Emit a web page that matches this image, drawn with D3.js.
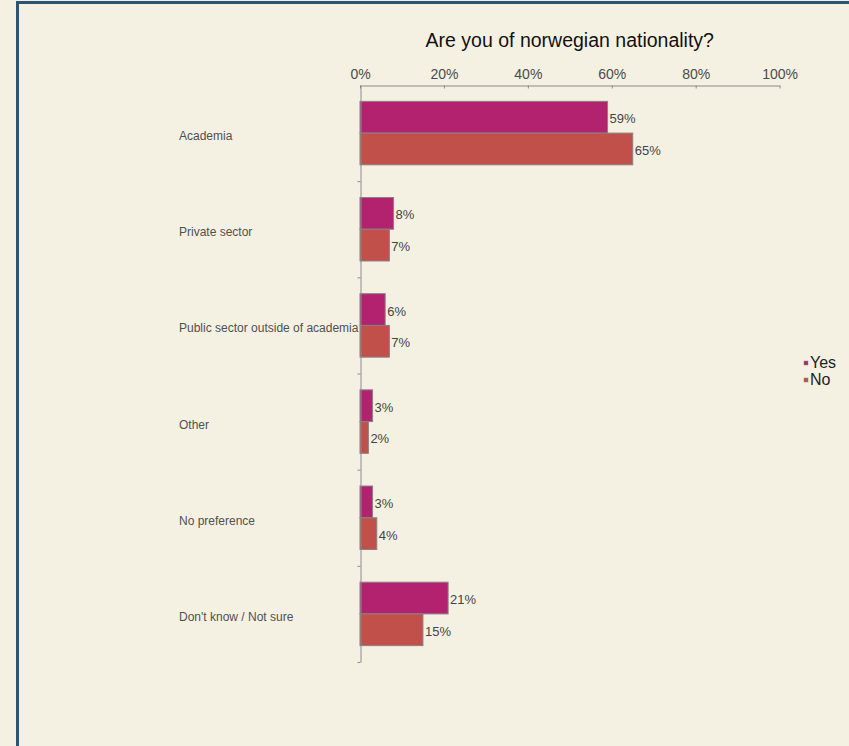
<!DOCTYPE html>
<html>
<head>
<meta charset="utf-8">
<script src="https://cdn.jsdelivr.net/npm/d3@7"></script>
<style>
  html, body { margin: 0; padding: 0; background: #f5f1e2; }
  svg { display: block; }
  text { font-family: "Liberation Sans", Arial, sans-serif; }
</style>
</head>
<body>
<script>
const categories = ["Academia", "Private sector", "Public sector outside of academia", "Other", "No preference", "Don't know / Not sure"];
const seriesNames = ["Yes", "No"];
const yesValues = [59, 8, 6, 3, 3, 21];
const noValues = [65, 7, 7, 2, 4, 15];
const xTicks = [0, 20, 40, 60, 80, 100];
const title = "Are you of norwegian nationality?";

const W = 849, H = 746;
const colors = { Yes: "#b3226f", No: "#c1504b" };

const svg = d3.select("body").append("svg").attr("width", W).attr("height", H);
svg.append("rect").attr("width", W).attr("height", H).attr("fill", "#f5f1e2");
// frame
svg.append("rect").attr("x", 17.5).attr("y", 2.5).attr("width", 1000).attr("height", 1000)
  .attr("fill", "#f5f1e2").attr("stroke", "#2c5571").attr("stroke-width", 3);

const plot = { left: 360, right: 779.6, top: 85, bottom: 662 };

const x = d3.scaleLinear().domain([0, 100]).range([plot.left, plot.right]);
const y = d3.scaleBand().domain(categories).range([plot.top, plot.bottom]).paddingInner(0.34).paddingOuter(0.17);
const ySub = d3.scaleBand().domain(seriesNames).range([0, y.bandwidth()]);

const data = [];
categories.forEach((c, i) => {
  data.push({ cat: c, s: "Yes", v: yesValues[i] });
  data.push({ cat: c, s: "No", v: noValues[i] });
});

// bars
svg.append("g").selectAll("rect").data(data).join("rect")
  .attr("x", x(0))
  .attr("y", d => y(d.cat) + ySub(d.s))
  .attr("width", d => x(d.v) - x(0))
  .attr("height", ySub.bandwidth())
  .attr("fill", d => colors[d.s])
  .attr("stroke", "#8d7f84")
  .attr("stroke-width", 1);

// value labels
svg.append("g").selectAll("text").data(data).join("text")
  .attr("x", d => x(d.v) + 2)
  .attr("y", d => y(d.cat) + ySub(d.s) + ySub.bandwidth() / 2 + 6)
  .attr("font-size", 13)
  .attr("fill", "#444")
  .text(d => d.v + "%");

// x axis (top)
const xAxis = d3.axisTop(x).tickValues(xTicks).tickFormat(d => d + "%").tickSize(-3).tickSizeOuter(0).tickPadding(7);
const gx = svg.append("g").attr("transform", `translate(0,${plot.top + 0.5})`).call(xAxis);
gx.select(".domain").attr("stroke", "#8a8a8a");
gx.selectAll(".tick line").attr("stroke", "#8a8a8a");
gx.selectAll(".tick text").attr("font-size", 14).attr("fill", "#4a4a4a")
  .attr("font-family", "'Liberation Sans', Arial, sans-serif");

// y axis (left) with ticks at band boundaries
const yIdx = d3.scaleLinear().domain([0, categories.length]).range([plot.top, plot.bottom]);
const yAxis = d3.axisLeft(yIdx).tickValues(d3.range(1, categories.length + 1)).tickFormat("").tickSize(3).tickSizeOuter(0);
const gy = svg.append("g").attr("transform", `translate(${plot.left + 0.5},0)`).call(yAxis);
gy.select(".domain").attr("stroke", "#8a8a8a");
gy.selectAll(".tick line").attr("stroke", "#8a8a8a");

// category labels
svg.append("g").selectAll("text").data(categories).join("text")
  .attr("x", 179)
  .attr("y", d => y(d) + y.bandwidth() / 2 + 7)
  .attr("font-size", 12)
  .attr("fill", "#505050")
  .text(d => d);

// title
svg.append("text")
  .attr("x", (plot.left + plot.right) / 2)
  .attr("y", 47)
  .attr("text-anchor", "middle")
  .attr("font-size", 19.5)
  .attr("fill", "#111")
  .text(title);

// legend
const lg = svg.append("g").attr("transform", "translate(804,0)");
seriesNames.forEach((s, i) => {
  const by = 368 + i * 17;
  lg.append("rect").attr("x", 0).attr("y", by - 7).attr("width", 4).attr("height", 4)
    .attr("fill", colors[s]).attr("stroke", "#8d7f84").attr("stroke-width", 0.5);
  lg.append("text").attr("x", 6).attr("y", by).attr("font-size", 16).attr("fill", "#222").text(s);
});
</script>
</body>
</html>
